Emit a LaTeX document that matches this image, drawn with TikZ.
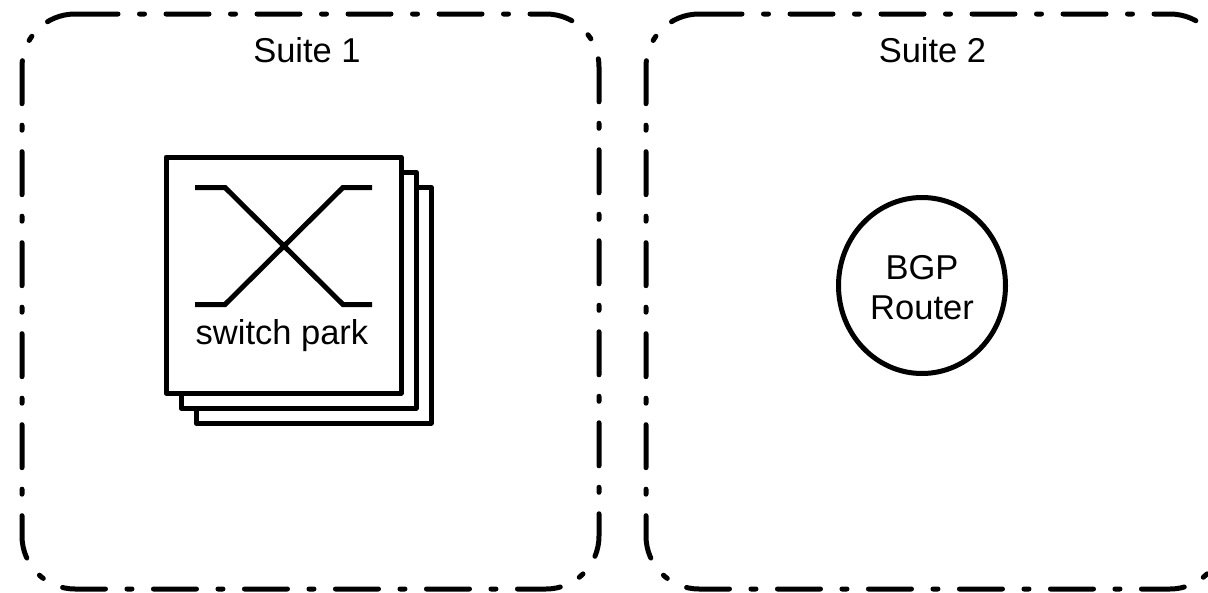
\documentclass[tikz,border=0pt]{standalone}
\usepackage{fontspec}
\setmainfont{Liberation Sans}
\usetikzlibrary{shapes.geometric}
\tikzset{
  suitebox/.style={line width=5pt, line cap=round,
    dash pattern=on 43pt off 21.5pt on 5pt off 21.5pt},
  parkbox/.style={draw, line width=5pt, line join=round, fill=white},
  wire/.style={line width=5pt},
  routernode/.style={draw, ellipse, line width=5pt, align=center,
    minimum width=167pt, minimum height=176pt, inner sep=0pt},
  label/.style={font=\fontsize{34.5}{40}\selectfont, align=center, inner sep=0pt}
}
\begin{document}
\begin{tikzpicture}[x=1pt, y=1pt]
    \useasboundingbox (0,0) rectangle (1208,-592);

    % the two suites
    \foreach \x in {22,646}
    \draw[suitebox] (\x+53,-14) -- (\x+524,-14) arc[start angle=90, end angle=0, radius=53]
      -- (\x+577,-536) arc[start angle=0, end angle=-90, radius=53]
      -- (\x+53,-589) arc[start angle=270, end angle=180, radius=53]
      -- (\x,-67) arc[start angle=180, end angle=90, radius=53];
    \node[label] (suiteone) at (307,-50) {Suite 1};
    \node[label] (suitetwo) at (932.5,-50) {Suite 2};

    % stack of switches, back to front
    \foreach \d in {30,15,0}
    \draw[parkbox] (166+\d,-157-\d) rectangle (401+\d,-393-\d);
    \draw[wire] (195,-187.5) -- (225,-187.5) -- (343,-304.5) -- (372,-304.5);
    \draw[wire] (195,-304.5) -- (225,-304.5) -- (343,-187.5) -- (372,-187.5);
    \node[label] (park) at (282,-335.5) {switch park};

    % router
    \node[routernode, label] (router) at (922,-285.5) {\rule{0pt}{29pt}BGP\\Router};
\end{tikzpicture}
\end{document}
